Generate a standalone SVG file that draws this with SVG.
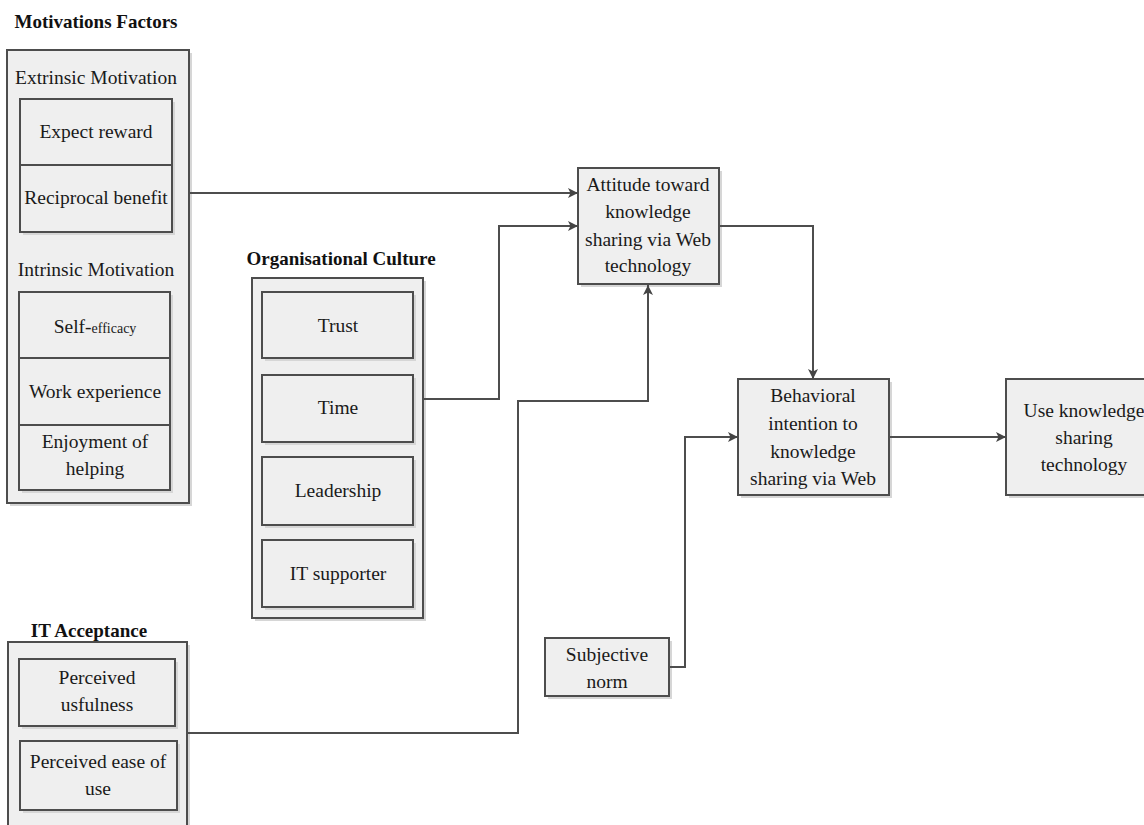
<svg xmlns="http://www.w3.org/2000/svg" width="1144" height="825" viewBox="0 0 1144 825">
<defs>
<style>
.box{fill:#efefef;stroke:#4d4d4d;stroke-width:2}
.sh{fill:#d6d6d6}
.t{font-family:"Liberation Serif","Times New Roman",serif;font-size:19.5px;fill:#1a1a1a;text-anchor:middle}
.tb{font-family:"Liberation Serif","Times New Roman",serif;font-size:19px;font-weight:bold;fill:#111;text-anchor:middle}
.c{fill:none;stroke:#4d4d4d;stroke-width:2}
</style>
<marker id="ah" viewBox="0 0 10 10" refX="10" refY="5" markerWidth="10" markerHeight="10" markerUnits="userSpaceOnUse" orient="auto">
<path d="M0,0 L10,5 L0,10 L2.5,5 z" fill="#444"/>
</marker>
</defs>
<rect width="1144" height="825" fill="#fff"/>

<g id="motivations">
<text class="tb" x="96" y="28">Motivations Factors</text>
<rect class="sh" x="10" y="53" width="182" height="453"/>
<rect class="box" x="7" y="50" width="182" height="453"/>
<text class="t" x="96" y="84">Extrinsic Motivation</text>
<g id="extrinsic">
<rect class="sh" x="23" y="102" width="152" height="133"/>
<rect class="box" x="20" y="99" width="152" height="133"/>
<line x1="20" y1="165" x2="172" y2="165" stroke="#4d4d4d" stroke-width="2"/>
<text class="t" x="96" y="138">Expect reward</text>
<text class="t" x="96" y="204">Reciprocal benefit</text>
</g>
<text class="t" x="96" y="276">Intrinsic Motivation</text>
<g id="intrinsic">
<rect class="sh" x="22" y="295" width="151" height="198"/>
<rect class="box" x="19" y="292" width="151" height="198"/>
<line x1="19" y1="358" x2="170" y2="358" stroke="#4d4d4d" stroke-width="2"/>
<line x1="19" y1="425" x2="170" y2="425" stroke="#4d4d4d" stroke-width="2"/>
<text class="t" x="95" y="333">Self-<tspan font-size="14">efficacy</tspan></text>
<text class="t" x="95" y="398">Work experience</text>
<text class="t" x="95" y="448">Enjoyment of</text>
<text class="t" x="95" y="475">helping</text>
</g>
</g>

<g id="organisational-culture">
<text class="tb" x="341" y="265">Organisational Culture</text>
<rect class="sh" x="255" y="281" width="171" height="340"/>
<rect class="box" x="252" y="278" width="171" height="340"/>
<g id="trust"><rect class="sh" x="265" y="295" width="151" height="66"/><rect class="box" x="262" y="292" width="151" height="66"/><text class="t" x="338" y="332">Trust</text></g>
<g id="time"><rect class="sh" x="265" y="378" width="151" height="67"/><rect class="box" x="262" y="375" width="151" height="67"/><text class="t" x="338" y="414">Time</text></g>
<g id="leadership"><rect class="sh" x="265" y="460" width="151" height="68"/><rect class="box" x="262" y="457" width="151" height="68"/><text class="t" x="338" y="497">Leadership</text></g>
<g id="it-supporter"><rect class="sh" x="265" y="543" width="151" height="67"/><rect class="box" x="262" y="540" width="151" height="67"/><text class="t" x="338" y="580">IT supporter</text></g>
</g>

<g id="it-acceptance">
<text class="tb" x="89" y="637">IT Acceptance</text>
<rect class="sh" x="11" y="645" width="179" height="185"/>
<rect class="box" x="8" y="642" width="179" height="185"/>
<g id="usefulness"><rect class="sh" x="22" y="662" width="156" height="67"/><rect class="box" x="19" y="659" width="156" height="67"/><text class="t" x="97" y="684">Perceived</text><text class="t" x="97" y="711">usfulness</text></g>
<g id="ease"><rect class="sh" x="23" y="744" width="157" height="69"/><rect class="box" x="20" y="741" width="157" height="69"/><text class="t" x="98" y="768">Perceived ease of</text><text class="t" x="98" y="795">use</text></g>
</g>

<g id="attitude">
<rect class="sh" x="581" y="171" width="141" height="116"/>
<rect class="box" x="578" y="168" width="141" height="116"/>
<text class="t" x="648" y="191">Attitude toward</text>
<text class="t" x="648" y="218">knowledge</text>
<text class="t" x="648" y="246">sharing via Web</text>
<text class="t" x="648" y="272">technology</text>
</g>

<g id="behavioral-intention">
<rect class="sh" x="741" y="382" width="151" height="116"/>
<rect class="box" x="738" y="379" width="151" height="116"/>
<text class="t" x="813" y="402">Behavioral</text>
<text class="t" x="813" y="430">intention to</text>
<text class="t" x="813" y="458">knowledge</text>
<text class="t" x="813" y="485">sharing via Web</text>
</g>

<g id="use-technology">
<rect class="sh" x="1009" y="382" width="150" height="116"/>
<rect class="box" x="1006" y="379" width="150" height="116"/>
<text class="t" x="1084" y="417">Use knowledge</text>
<text class="t" x="1084" y="444">sharing</text>
<text class="t" x="1084" y="471">technology</text>
</g>

<g id="subjective-norm">
<rect class="sh" x="548" y="641" width="124" height="58"/>
<rect class="box" x="545" y="638" width="124" height="58"/>
<text class="t" x="607" y="661">Subjective</text>
<text class="t" x="607" y="688">norm</text>
</g>

<g id="connectors">
<path class="c" d="M189,193 H578" marker-end="url(#ah)"/>
<path class="c" d="M423,399 H499 V226 H578" marker-end="url(#ah)"/>
<path class="c" d="M187,733 H518 V401 H648 V285" marker-end="url(#ah)"/>
<path class="c" d="M719,226 H813 V379" marker-end="url(#ah)"/>
<path class="c" d="M889,437 H1006" marker-end="url(#ah)"/>
<path class="c" d="M669,667 H685 V437 H738" marker-end="url(#ah)"/>
</g>
</svg>
